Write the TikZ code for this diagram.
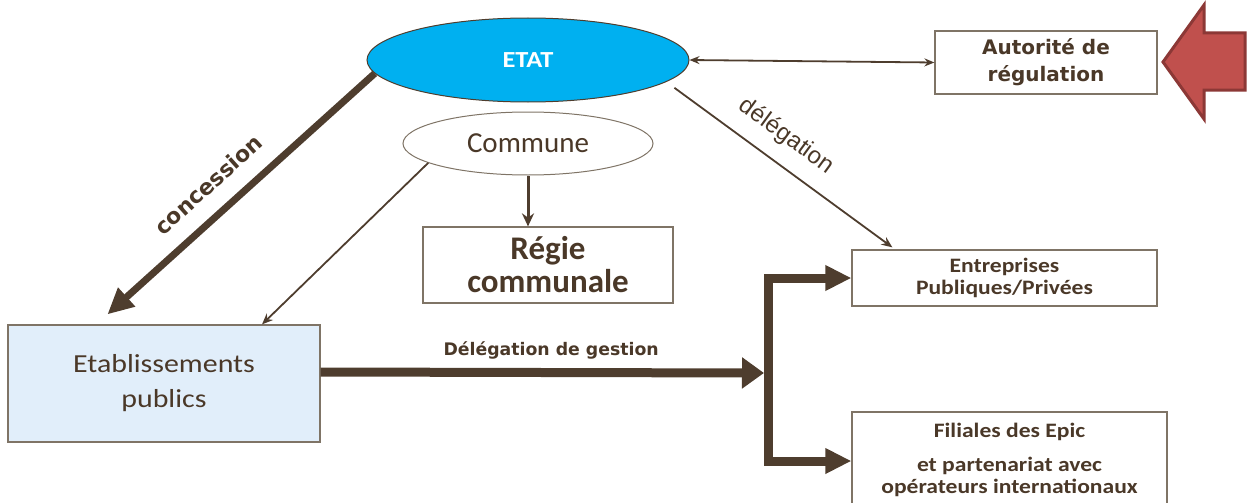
\documentclass[tikz,border=0pt]{standalone}
\usepackage{fontspec}
\setmainfont{Carlito}
\newfontfamily\widefont{Carlito}[FakeStretch=1.15]
\newfontfamily\tahfont{DejaVu Sans}
\newfontfamily\arifont{Liberation Sans}
\usetikzlibrary{arrows.meta,calc,shapes.geometric}
\definecolor{brn}{HTML}{4E3D2E}
\definecolor{txtb}{HTML}{4A3828}
\definecolor{etatblue}{HTML}{00B0F0}
\definecolor{etabfill}{HTML}{E1EEFA}
\definecolor{redfill}{HTML}{C0504D}
\definecolor{redline}{HTML}{8C3836}
\definecolor{boxline}{HTML}{7F7466}
\begin{document}
\begin{tikzpicture}[x=1pt,y=-1pt,
  boxnode/.style={draw=boxline,line width=1.2pt,rectangle,inner sep=0pt,align=center,text=txtb},
  ellnode/.style={ellipse,inner sep=0pt,line width=1pt,align=center},
  thinarrow/.style={draw=brn,line width=1.8pt,-{Stealth[length=11pt,width=9pt]}},
  thickarrow/.style={draw=brn,line width=9pt,-{Triangle[length=22pt,width=30pt]}},
  lbl/.style={inner sep=0pt,text=txtb}]
\useasboundingbox (0,0) rectangle (1253,503);
% nodes
\node[ellnode,draw=brn,fill=etatblue,minimum width=322pt,minimum height=84pt,text=white,font=\widefont\fontsize{23}{26}\selectfont\bfseries] (etat) at (528,60) {ETAT};
\node[ellnode,draw=boxline,fill=white,minimum width=250pt,minimum height=63pt,text=txtb,font=\fontsize{29}{32}\selectfont] (commune) at (528,143.5) {Commune};
\node[boxnode,minimum width=222pt,minimum height=63pt,font=\tahfont\fontsize{20}{27}\selectfont\bfseries] (auto) at (1046,62.5) {Autorité de\\régulation};
\node[boxnode,minimum width=250pt,minimum height=76pt,font=\fontsize{33}{33}\selectfont\bfseries] (regie) at (548,265) {Régie\\communale};
\node[boxnode,fill=etabfill,minimum width=312pt,minimum height=117pt,font=\widefont\fontsize{26}{35}\selectfont] (etab) at (164,383.5) {Etablissements\\publics};
\node[boxnode,minimum width=305pt,minimum height=56pt,font=\widefont\fontsize{20.5}{22}\selectfont\bfseries] (ent) at (1004.5,278) {Entreprises\\Publiques/Privées};
\node[boxnode,minimum width=315pt,minimum height=96pt,font=\widefont\fontsize{20.5}{22}\selectfont\bfseries] (fil) at (1009.5,460) {Filiales des Epic\\[12pt]et partenariat avec\\opérateurs internationaux};
% coordinates
\coordinate (jn) at (764,373);
\coordinate (bt) at (768,278);
\coordinate (bb) at (768,461);
% connectors
\draw[draw=brn,line width=7pt,-{Triangle[length=26pt,width=24pt]}] (etat.185) -- ([xshift=100pt,yshift=10pt]etab.north west)
  node[lbl,pos=0.55,sloped,above=17pt,font=\tahfont\fontsize{22}{24}\selectfont\bfseries] (lconc) {concession};
\draw[thinarrow] (commune.191) -- ([xshift=98pt]etab.north);
\draw[thinarrow,shorten <=10pt] (etat.-9.6) -- ([xshift=41pt,yshift=2pt]ent.north west)
  node[lbl,pos=0.46,sloped,above=15pt,font=\arifont\fontsize{24}{26}\selectfont] (ldel) {délégation};
\draw[draw=brn,line width=1.8pt,{Stealth[length=10pt,width=8pt]}-{Stealth[length=10pt,width=8pt]}] (etat.east) -- (auto.west);
\draw[draw=brn,line width=3pt,-{Stealth[length=13pt,width=12pt]}] (commune.south) -- (commune.south |- regie.north);
\draw[thickarrow] ([yshift=11.5pt]etab.east) -- (jn)
  node[lbl,pos=0.52,above=9pt,font=\tahfont\fontsize{17.3}{19}\selectfont\bfseries] (lges) {Délégation de gestion};
\draw[draw=brn,line width=9pt,line join=miter,{Triangle[length=26pt,width=24pt]}-{Triangle[length=26pt,width=24pt]}] (ent.west) -- (bt) -- (bb) -- (bb -| fil.west);
% red arrow
\draw[fill=redfill,draw=redline,line width=3pt,line join=miter] (1163,62) -- (1204,5) -- (1204,33) -- (1245,33) -- (1245,90) -- (1204,90) -- (1204,119) -- cycle;
\end{tikzpicture}
\end{document}
